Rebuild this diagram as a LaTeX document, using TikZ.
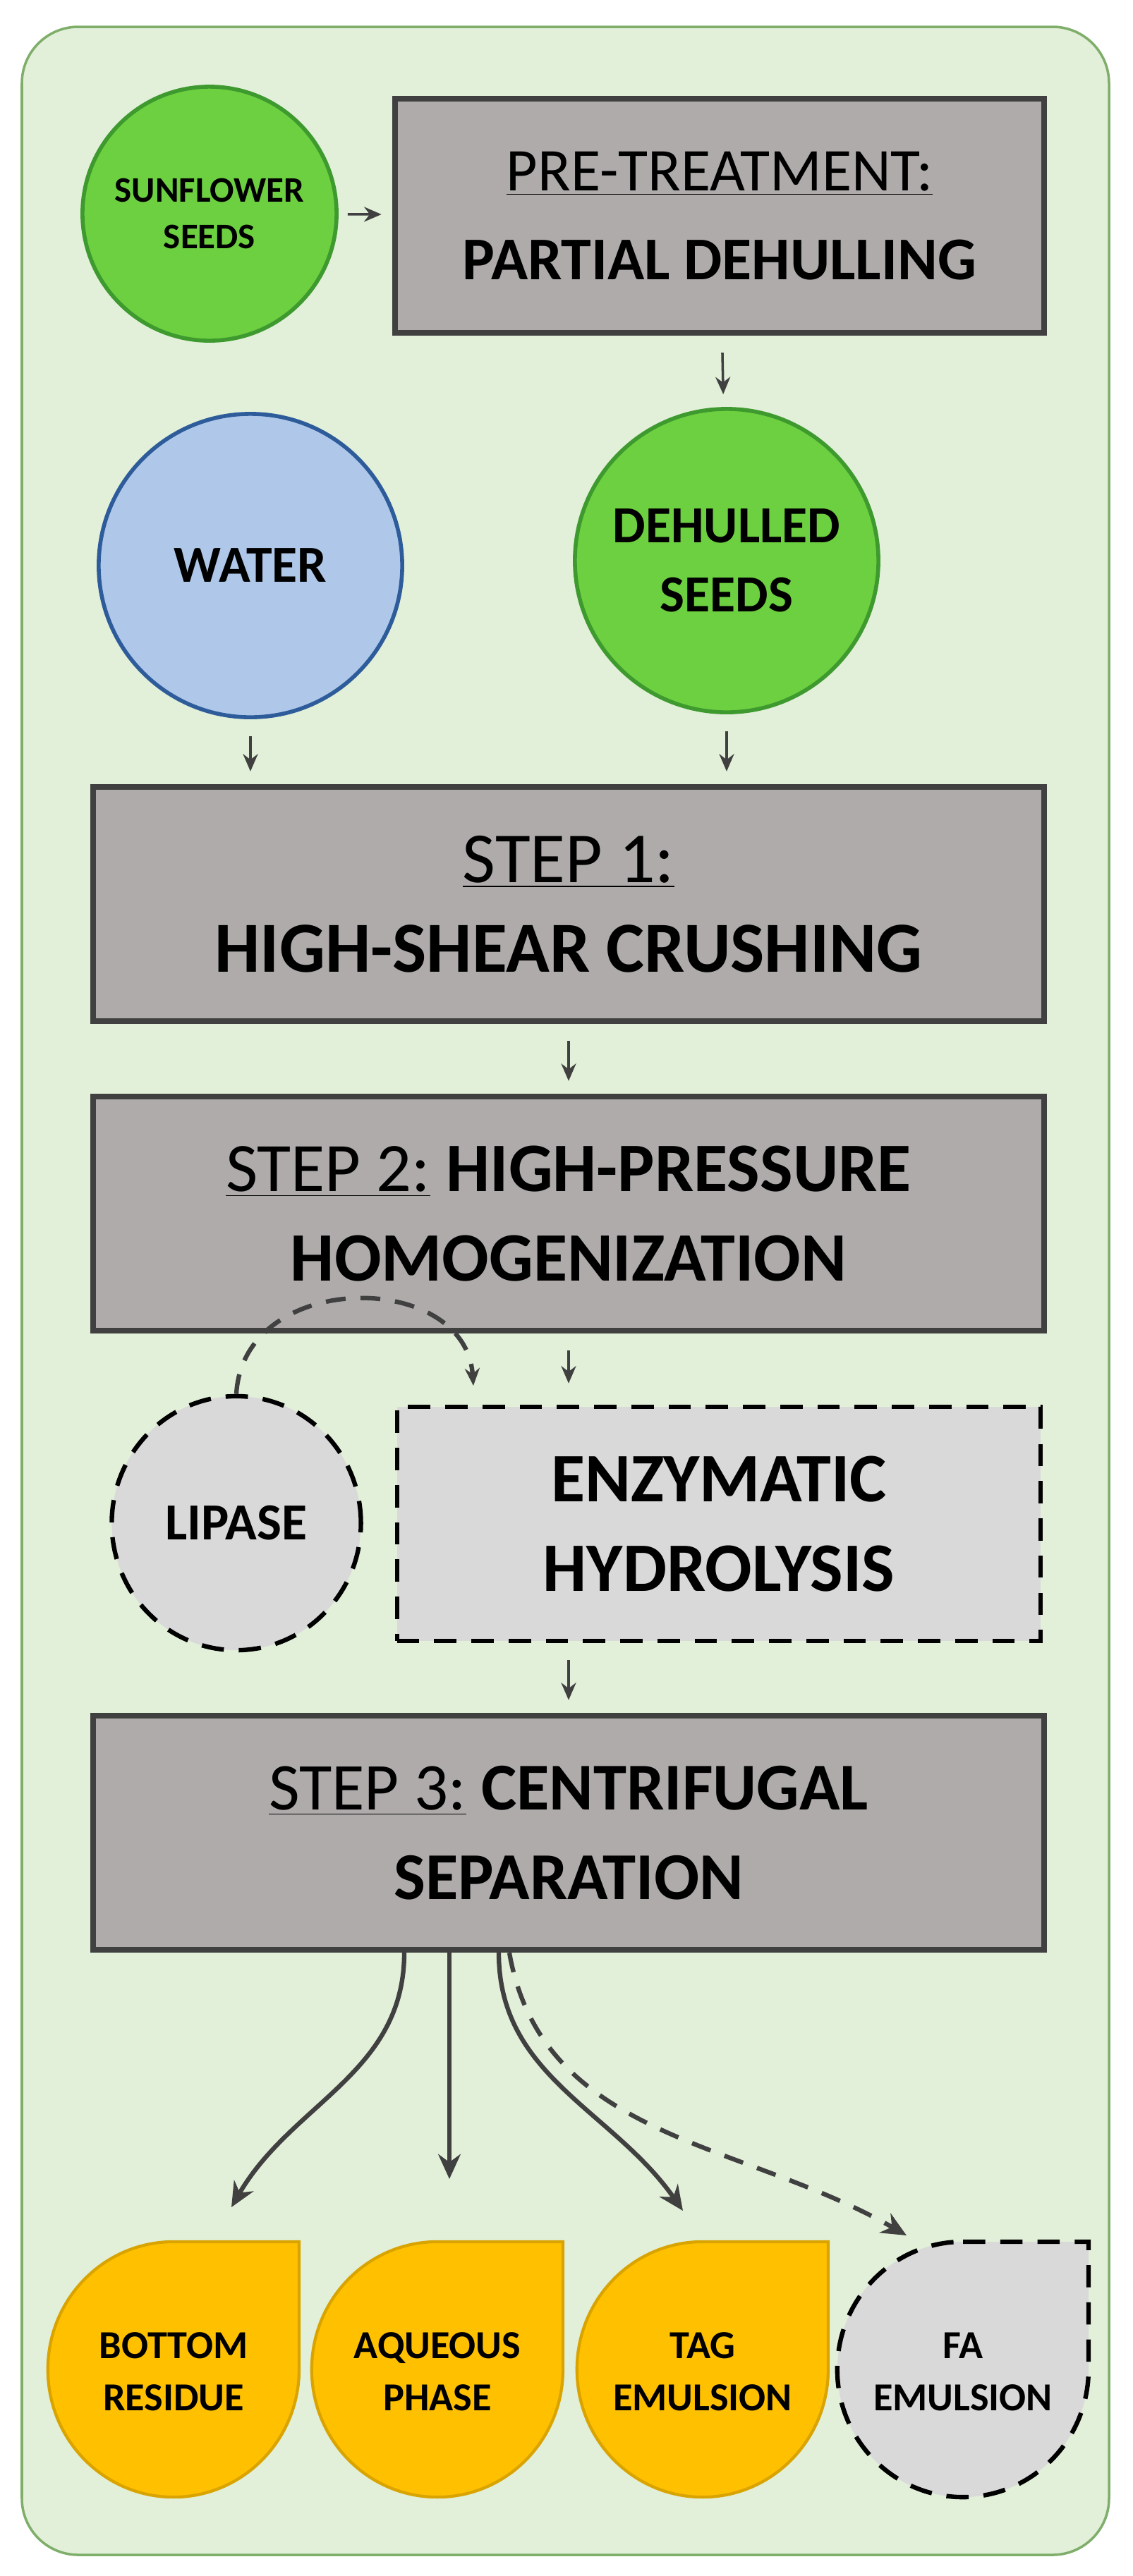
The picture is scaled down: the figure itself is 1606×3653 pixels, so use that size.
\documentclass[tikz,border=0pt]{standalone}
\usepackage{fontspec}
\setmainfont{Carlito}
\usetikzlibrary{arrows.meta}
\usetikzlibrary{shapes.geometric}
\definecolor{bgg}{HTML}{E2F0D9}
\definecolor{bgline}{HTML}{7FAE6A}
\definecolor{boxg}{HTML}{AFABAB}
\definecolor{dk}{HTML}{404040}
\definecolor{seedg}{HTML}{6CD040}
\definecolor{seedline}{HTML}{3E9A2E}
\definecolor{wat}{HTML}{AFC8EA}
\definecolor{watline}{HTML}{2E5C9A}
\definecolor{lg}{HTML}{D9D9D9}
\definecolor{yel}{HTML}{FFC000}
\definecolor{yelline}{HTML}{D9A300}
\newcommand{\drop}[2]{
\begin{scope}[shift={#1}]
\filldraw[#2] (0,181) -- (178,181) -- (178,0) arc [x radius=1.78cm,y radius=1.81cm,start angle=0,end angle=-270] -- cycle;
\end{scope}
}
\tikzset{
proc/.style={rectangle,draw=dk,fill=boxg,line width=2.3pt,align=center,minimum height=3.32cm},
seed/.style={circle,draw=seedline,fill=seedg,line width=1.6pt,align=center,font=\bfseries},
flow/.style={-{Stealth[length=7pt,width=6pt]},dk,line width=1pt,shorten >=0.18cm,shorten <=0.24cm},
outflow/.style={-{Stealth[length=10pt,width=9pt]},dk,line width=1.8pt}
}
\begin{document}
\begin{tikzpicture}[x=0.01cm,y=0.01cm]
\useasboundingbox (0,0) rectangle (1606,-3653);
\filldraw[fill=bgg,draw=bgline,line width=1pt,rounded corners=0.8cm] (31,-38) rectangle (1572,-3623);
\node[seed,minimum size=3.6cm,font=\bfseries\fontsize{14.5}{19}\selectfont] (sun) at (297,-303) {SUNFLOWER\\SEEDS};
\node[proc,minimum width=9.2cm,font=\fontsize{24.5}{36}\selectfont] (pre) at (1020,-306) {\underline{PRE-TREATMENT:}\\\textbf{PARTIAL DEHULLING}};
\node[circle,draw=watline,fill=wat,line width=1.6pt,minimum size=4.3cm,font=\bfseries\fontsize{21}{26}\selectfont] (water) at (355,-802) {WATER};
\node[seed,minimum size=4.3cm,font=\bfseries\fontsize{21}{28}\selectfont] (dehul) at (1030,-795) {DEHULLED\\SEEDS};
\node[proc,minimum width=13.47cm,font=\fontsize{29}{36}\selectfont] (step1) at (806,-1282) {\underline{STEP 1:}\\\textbf{HIGH-SHEAR CRUSHING}};
\node[proc,minimum width=13.47cm,font=\fontsize{28}{36}\selectfont] (step2) at (806,-1721) {\underline{STEP 2:} \textbf{HIGH-PRESSURE}\\\textbf{HOMOGENIZATION}};
\node[ellipse,draw=black,fill=lg,dashed,line width=1.8pt,dash pattern=on 9pt off 6pt,minimum width=3.53cm,minimum height=3.6cm,font=\bfseries\fontsize{21}{26}\selectfont] (lip) at (335,-2160) {LIPASE};
\node[rectangle,draw=black,fill=lg,line width=1.8pt,dash pattern=on 9pt off 6pt,minimum width=9.12cm,minimum height=3.32cm,align=center,font=\bfseries\fontsize{28}{36}\selectfont] (enz) at (1019,-2161) {ENZYMATIC\\HYDROLYSIS};
\node[proc,minimum width=13.47cm,font=\fontsize{27}{36}\selectfont] (step3) at (806,-2599) {\underline{STEP 3:} \textbf{CENTRIFUGAL}\\\textbf{SEPARATION}};
\drop{(246,-3360)}{fill=yel,draw=yelline,line width=1.2pt}
\drop{(620,-3360)}{fill=yel,draw=yelline,line width=1.2pt}
\drop{(996,-3360)}{fill=yel,draw=yelline,line width=1.2pt}
\drop{(1365,-3360)}{fill=lg,draw=black,line width=1.8pt,dash pattern=on 9pt off 6pt}
\node[align=center,font=\bfseries\fontsize{16}{21}\selectfont] (res) at (246,-3363) {BOTTOM\\RESIDUE};
\node[align=center,font=\bfseries\fontsize{16}{21}\selectfont] (aq) at (620,-3363) {AQUEOUS\\PHASE};
\node[align=center,font=\bfseries\fontsize{16}{21}\selectfont] (tag) at (996,-3363) {TAG\\EMULSION};
\node[align=center,font=\bfseries\fontsize{16}{21}\selectfont] (fa) at (1365,-3363) {FA\\EMULSION};
\coordinate (lipin) at (671,-1965);
\coordinate (resin) at (328,-3130);
\coordinate (aqin) at (637,-3090);
\coordinate (tagin) at (968,-3135);
\coordinate (fain) at (1285,-3170);
% connectors
\draw[flow,shorten <=0.13cm,shorten >=0.15cm] (sun) -- (pre);
\draw[flow] (pre) -- (dehul);
\draw[flow] (water.south) -- (water.south |- step1.north);
\draw[flow] (dehul.south) -- (dehul.south |- step1.north);
\draw[flow] (step1) -- (step2);
\draw[flow,shorten >=0.3cm] (step2.south) -- (step2.south |- enz.north);
\draw[flow] (enz.south -| step3.north) -- (step3.north);
\draw[-{Stealth[length=7pt,width=6pt]},dk,line width=1.8pt,dash pattern=on 8pt off 6pt] (lip.north) .. controls (345,-1800) and (660,-1800) .. (lipin);
\draw[outflow] (step3.south -| 573,0) to[out=-90,in=60] (resin);
\draw[outflow] (step3.south -| aqin) -- (aqin);
\draw[outflow] (step3.south -| 707,0) to[out=-90,in=125] (tagin);
\draw[outflow,dash pattern=on 8pt off 6pt] (step3.south -| 722,0) to[out=-80,in=150] (fain);
\end{tikzpicture}
\end{document}
